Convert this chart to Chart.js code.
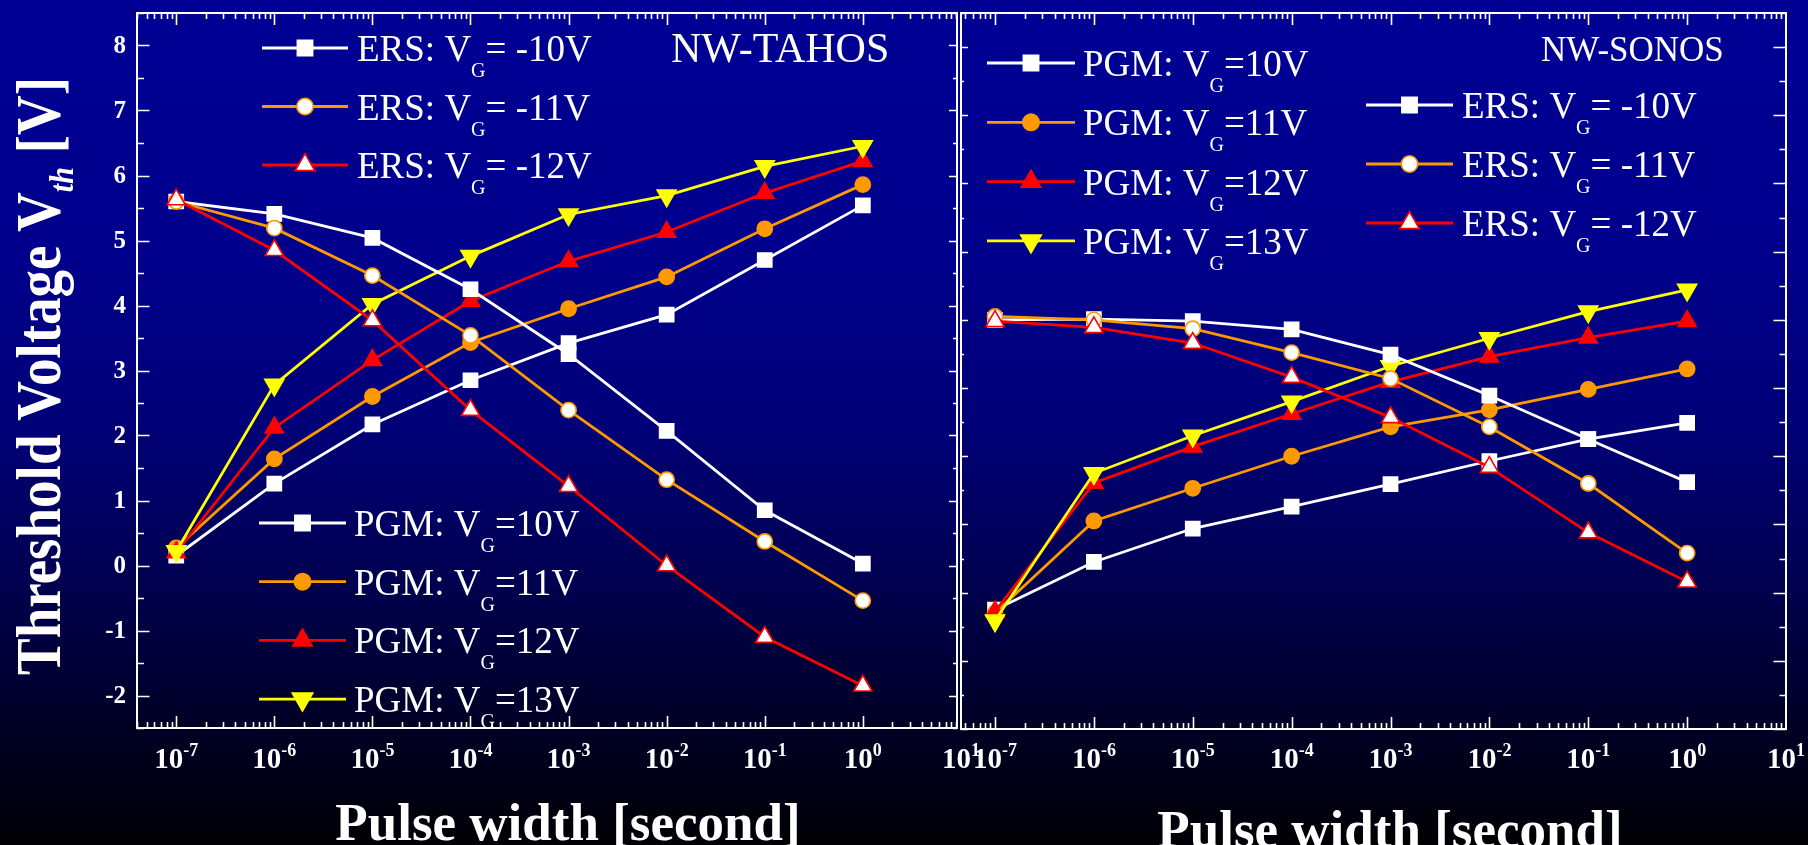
<!DOCTYPE html>
<html><head><meta charset="utf-8">
<script src="https://cdn.jsdelivr.net/npm/chart.js@4/dist/chart.umd.min.js"></script>
<style>
html,body{margin:0;padding:0;width:1808px;height:845px;overflow:hidden;
background:linear-gradient(to bottom, rgb(0,0,148) 0%, rgb(0,0,140) 30%, rgb(0,0,120) 50%, rgb(0,0,84) 67%, rgb(0,0,42) 84%, rgb(0,0,4) 100%);}
canvas{position:absolute;top:0;}
#cL{left:0px}
#cR{left:960px}
</style></head><body>
<canvas id="cL" width="1000" height="845"></canvas>
<canvas id="cR" width="848" height="845"></canvas>
<script>
// ---------- data ----------
const pulseWidths = [1e-7, 1e-6, 1e-5, 1e-4, 1e-3, 1e-2, 1e-1, 1];
const xTickExponents = [-7, -6, -5, -4, -3, -2, -1, 0, 1];
const yTickValues = [-2, -1, 0, 1, 2, 3, 4, 5, 6, 7, 8];
const ersLabels = ['-10V', '-11V', '-12V'];
const pgmLabels = ['10V', '11V', '12V', '13V'];

// NW-TAHOS
const tahosErs10 = [5.60, 5.41, 5.04, 4.25, 3.25, 2.07, 0.85, 0.03];
const tahosErs11 = [5.60, 5.19, 4.46, 3.54, 2.39, 1.32, 0.37, -0.54];
const tahosErs12 = [5.63, 4.85, 3.77, 2.39, 1.22, 0.00, -1.10, -1.85];
const tahosPgm10 = [0.15, 1.26, 2.17, 2.85, 3.42, 3.86, 4.70, 5.54];
const tahosPgm11 = [0.27, 1.64, 2.60, 3.43, 3.95, 4.44, 5.18, 5.86];
const tahosPgm12 = [0.20, 2.12, 3.16, 4.07, 4.68, 5.13, 5.73, 6.22];
const tahosPgm13 = [0.22, 2.78, 4.02, 4.76, 5.40, 5.69, 6.14, 6.45];

// NW-SONOS
const sonosErs10 = [4.00, 4.01, 3.98, 3.86, 3.49, 2.89, 2.25, 1.62];
const sonosErs11 = [4.05, 4.00, 3.87, 3.52, 3.14, 2.43, 1.60, 0.58];
const sonosErs12 = [3.98, 3.89, 3.66, 3.16, 2.57, 1.84, 0.88, 0.16];
const sonosPgm10 = [-0.25, 0.45, 0.94, 1.26, 1.59, 1.93, 2.25, 2.49];
const sonosPgm11 = [-0.30, 1.05, 1.53, 2.00, 2.43, 2.68, 2.98, 3.28];
const sonosPgm12 = [-0.28, 1.61, 2.14, 2.62, 3.09, 3.46, 3.74, 3.98];
const sonosPgm13 = [-0.41, 1.75, 2.30, 2.80, 3.32, 3.73, 4.12, 4.44];

// ---------- styles ----------
const SERIF = "'Liberation Serif','Times New Roman',serif";
const WHITE = '#ffffff', ORANGE = '#ff9900', RED = '#ff0000', YELLOW = '#ffff00';
const ST = {
  ers10: {color: WHITE,  point: 'rect',     fill: WHITE,  r: 10,  rot: 0},
  ers11: {color: ORANGE, point: 'circle',   fill: WHITE,  r: 7.6, rot: 0},
  ers12: {color: RED,    point: 'triangle', fill: WHITE,  r: 10.5, rot: 0},
  pgm10: {color: WHITE,  point: 'rect',     fill: WHITE,  r: 10,  rot: 0},
  pgm11: {color: ORANGE, point: 'circle',   fill: ORANGE, r: 7.6, rot: 0},
  pgm12: {color: RED,    point: 'triangle', fill: RED,    r: 10.5, rot: 0},
  pgm13: {color: YELLOW, point: 'triangle', fill: YELLOW, r: 11,  rot: 180}
};

function ds(label, values, st, order) {
  return {
    label: label,
    data: pulseWidths.map((x, i) => ({x: x, y: values[i]})),
    borderColor: st.color, borderWidth: 2.8,
    pointStyle: st.point, pointRotation: st.rot, pointRadius: st.r,
    pointBackgroundColor: st.fill, pointBorderColor: st.color, pointBorderWidth: 1.6,
    tension: 0, fill: false, order: order
  };
}

function drawMarker(ctx, st, x, y) {
  ctx.save();
  ctx.fillStyle = st.fill; ctx.strokeStyle = st.color; ctx.lineWidth = 1.6;
  ctx.beginPath();
  const r = st.r * 1.08;
  if (st.point === 'rect') {
    const s = r * Math.SQRT1_2; ctx.rect(x - s, y - s, 2 * s, 2 * s);
  } else if (st.point === 'circle') {
    ctx.arc(x, y, r, 0, Math.PI * 2);
  } else {
    const rot = st.rot * Math.PI / 180;
    for (let k = 0; k < 3; k++) {
      const a = rot + k * 2 * Math.PI / 3;
      const px = x + Math.sin(a) * r, py = y - Math.cos(a) * r;
      if (k) ctx.lineTo(px, py); else ctx.moveTo(px, py);
    }
    ctx.closePath();
  }
  ctx.fill(); ctx.stroke(); ctx.restore();
}

function drawRich(ctx, x, y, parts, align) {
  let total = 0;
  parts.forEach(p => { ctx.font = p.font; p.w = ctx.measureText(p.t).width; total += p.w; });
  let cx = align === 'center' ? x - total / 2 : x;
  ctx.textAlign = 'left';
  parts.forEach(p => { ctx.font = p.font; ctx.fillText(p.t, cx, y + (p.dy || 0)); cx += p.w; });
}

function legendEntry(ctx, st, x1, x2, y, textX, prefix, value) {
  ctx.save();
  ctx.strokeStyle = st.color; ctx.lineWidth = 2.8;
  ctx.beginPath(); ctx.moveTo(x1, y); ctx.lineTo(x2, y); ctx.stroke();
  drawMarker(ctx, st, (x1 + x2) / 2, y);
  ctx.fillStyle = WHITE; ctx.textBaseline = 'alphabetic';
  drawRich(ctx, textX, y + 13, [
    {t: prefix + ': V', font: '37px ' + SERIF},
    {t: 'G', font: '20px ' + SERIF, dy: 16},
    {t: value, font: '37px ' + SERIF}
  ], 'left');
  ctx.restore();
}

function axesPlugin(cfg) {
  return {
    id: 'axesDeco',
    afterDatasetsDraw(chart) {
      const ctx = chart.ctx, a = chart.chartArea;
      const xs = chart.scales.x, ys = chart.scales.y;
      ctx.save();
      ctx.strokeStyle = WHITE; ctx.lineWidth = 2;
      ctx.strokeRect(a.left, a.top, a.right - a.left, a.bottom - a.top);
      ctx.lineWidth = 1.6;
      ctx.beginPath();
      for (let e = -9; e <= 1; e++) {
        for (let m = 1; m <= 9; m++) {
          const v = m * Math.pow(10, e);
          if (v < xs.min * 1.0001 || v > xs.max * 0.9999) continue;
          const px = Math.round(xs.getPixelForValue(v)) + 0.5;
          const len = m === 1 ? 12 : 6;
          ctx.moveTo(px, a.bottom); ctx.lineTo(px, a.bottom - len);
          ctx.moveTo(px, a.top); ctx.lineTo(px, a.top + len);
        }
      }
      for (let v = Math.ceil(ys.min * 2) / 2; v <= ys.max; v += 0.5) {
        const py = Math.round(ys.getPixelForValue(v)) + 0.5;
        const major = Math.abs(v - Math.round(v)) < 1e-6;
        const ll = major ? cfg.leftMajor : cfg.leftMinor;
        const rl = major ? cfg.rightMajor : cfg.rightMinor;
        ctx.moveTo(a.left, py); ctx.lineTo(a.left + ll, py);
        ctx.moveTo(a.right, py); ctx.lineTo(a.right - rl, py);
      }
      ctx.stroke();
      ctx.fillStyle = WHITE; ctx.textBaseline = 'alphabetic';
      xTickExponents.forEach(e => {
        const px = xs.getPixelForValue(Math.pow(10, e));
        drawRich(ctx, px, 768, [
          {t: '10', font: 'bold 29px ' + SERIF},
          {t: String(e), font: 'bold 18px ' + SERIF, dy: -12}
        ], 'center');
      });
      if (cfg.yLabels) {
        ctx.font = 'bold 25px ' + SERIF; ctx.textAlign = 'right'; ctx.textBaseline = 'middle';
        yTickValues.forEach(v => ctx.fillText(String(v), 126, ys.getPixelForValue(v) + 1));
      }
      ctx.restore();
    },
    afterDraw(chart) { cfg.extra(chart); }
  };
}

function noPad(s) { s.paddingLeft = 0; s.paddingRight = 0; s.paddingTop = 0; s.paddingBottom = 0; }

const chartOpts = (pad, xmin, xmax, ymin, ymax) => ({
  responsive: false, animation: false, events: [],
  layout: {padding: pad, autoPadding: false},
  plugins: {legend: {display: false}, tooltip: {enabled: false}, title: {display: false}},
  scales: {
    x: {type: 'logarithmic', min: xmin, max: xmax, display: false, ticks: {display: false}, afterFit: noPad},
    y: {type: 'linear', min: ymin, max: ymax, display: false, ticks: {display: false}, afterFit: noPad}
  }
});

// ---------- NW-TAHOS (left) ----------
new Chart(document.getElementById('cL'), {
  type: 'line',
  data: {datasets: [
    ds('ERS: VG= -12V', tahosErs12, ST.ers12, 1),
    ds('ERS: VG= -11V', tahosErs11, ST.ers11, 2),
    ds('ERS: VG= -10V', tahosErs10, ST.ers10, 3),
    ds('PGM: VG=13V', tahosPgm13, ST.pgm13, 4),
    ds('PGM: VG=12V', tahosPgm12, ST.pgm12, 5),
    ds('PGM: VG=11V', tahosPgm11, ST.pgm11, 6),
    ds('PGM: VG=10V', tahosPgm10, ST.pgm10, 7)
  ]},
  options: chartOpts({left: 137, right: 43, top: 13, bottom: 117}, Math.pow(10, -7.4), Math.pow(10, 0.96), -2.5, 8.5),
  plugins: [axesPlugin({
    leftMajor: 12.5, leftMinor: 7, rightMajor: 8, rightMinor: 4, yLabels: true,
    extra(chart) {
      const ctx = chart.ctx;
      ctx.save();
      const ersSt = [ST.ers10, ST.ers11, ST.ers12];
      ersLabels.forEach((l, i) => legendEntry(ctx, ersSt[i], 262, 348, 48 + i * 58.5, 357, 'ERS', '= ' + l));
      const pgmSt = [ST.pgm10, ST.pgm11, ST.pgm12, ST.pgm13];
      pgmLabels.forEach((l, i) => legendEntry(ctx, pgmSt[i], 259, 346, 523 + i * 58.7, 354, 'PGM', '=' + l));
      ctx.fillStyle = WHITE; ctx.textAlign = 'left'; ctx.textBaseline = 'alphabetic';
      ctx.font = '42px ' + SERIF; ctx.fillText('NW-TAHOS', 671, 62);
      ctx.font = 'bold 53px ' + SERIF; ctx.textAlign = 'center';
      ctx.fillText('Pulse width [second]', 568, 840);
      ctx.translate(60, 376); ctx.rotate(-Math.PI / 2); ctx.scale(1, 1.15);
      drawRich(ctx, 0, 0, [
        {t: 'Threshold Voltage V', font: 'bold 55px ' + SERIF},
        {t: 'th', font: 'italic bold 30px ' + SERIF, dy: 11},
        {t: ' [V]', font: 'bold 55px ' + SERIF}
      ], 'center');
      ctx.restore();
    }
  })]
});

// ---------- NW-SONOS (right) ----------
new Chart(document.getElementById('cR'), {
  type: 'line',
  data: {datasets: [
    ds('ERS: VG= -12V', sonosErs12, ST.ers12, 1),
    ds('ERS: VG= -11V', sonosErs11, ST.ers11, 2),
    ds('ERS: VG= -10V', sonosErs10, ST.ers10, 3),
    ds('PGM: VG=13V', sonosPgm13, ST.pgm13, 4),
    ds('PGM: VG=12V', sonosPgm12, ST.pgm12, 5),
    ds('PGM: VG=11V', sonosPgm11, ST.pgm11, 6),
    ds('PGM: VG=10V', sonosPgm10, ST.pgm10, 7)
  ]},
  options: chartOpts({left: 1, right: 22, top: 13, bottom: 116}, Math.pow(10, -7.344), 10, -2, 8.5),
  plugins: [axesPlugin({
    leftMajor: 7, leftMinor: 3, rightMajor: 12.5, rightMinor: 6.5, yLabels: false,
    extra(chart) {
      const ctx = chart.ctx;
      ctx.save();
      const pgmSt = [ST.pgm10, ST.pgm11, ST.pgm12, ST.pgm13];
      pgmLabels.forEach((l, i) => legendEntry(ctx, pgmSt[i], 27, 115, 63 + i * 59.3, 123, 'PGM', '=' + l));
      const ersSt = [ST.ers10, ST.ers11, ST.ers12];
      ersLabels.forEach((l, i) => legendEntry(ctx, ersSt[i], 406, 493, 105 + i * 59, 502, 'ERS', '= ' + l));
      ctx.fillStyle = WHITE; ctx.textAlign = 'left'; ctx.textBaseline = 'alphabetic';
      ctx.font = '35px ' + SERIF; ctx.fillText('NW-SONOS', 581, 61);
      ctx.font = 'bold 53px ' + SERIF; ctx.textAlign = 'center';
      ctx.fillText('Pulse width [second]', 430, 847);
      ctx.restore();
    }
  })]
});
</script>
</body></html>
